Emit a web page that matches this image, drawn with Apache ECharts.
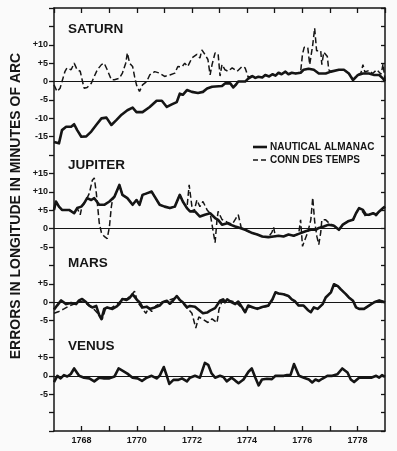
<!DOCTYPE html>
<html>
<head>
<meta charset="utf-8">
<script src="https://cdn.jsdelivr.net/npm/echarts/dist/echarts.min.js"></script>
<style>
  html, body { margin: 0; padding: 0; background: #fafafa; }
  #chart { width: 397px; height: 451px; }
</style>
</head>
<body>
<div id="chart"></div>
<script>
// years on the x axis, error in minutes of arc on y
const yearLabels = [1768, 1770, 1772, 1774, 1776, 1778];

const saturnTicks = [-15, -10, -5, 0, 5, 10];
const jupiterTicks = [-5, 0, 5, 10, 15];
const marsTicks = [-5, 0, 5];
const venusTicks = [-5, 0, 5];

const saturnAlmanac = [[1767.00,-16.4],[1767.18,-16.8],[1767.29,-13.2],[1767.44,-12.3],[1767.62,-12.3],[1767.73,-11.6],[1767.84,-13.2],[1767.99,-15],[1768.17,-14.9],[1768.35,-13.6],[1768.53,-11.8],[1768.72,-10],[1768.90,-9.8],[1769.08,-11.8],[1769.26,-10.5],[1769.45,-9],[1769.66,-7.8],[1769.85,-7.1],[1769.99,-8.3],[1770.21,-8.3],[1770.47,-6.9],[1770.72,-5.2],[1770.91,-5.2],[1771.09,-6.9],[1771.27,-6.2],[1771.45,-5.6],[1771.56,-3.3],[1771.67,-3.6],[1771.82,-2.3],[1772.00,-2.8],[1772.22,-3.1],[1772.40,-2.8],[1772.55,-1.9],[1772.73,-1.4],[1773.09,-1.2],[1773.20,-0.5],[1773.39,-0.5],[1773.50,-1.6],[1773.60,-0.8],[1773.68,0],[1773.93,0],[1774.04,0.8],[1774.19,1.5],[1774.30,1.0],[1774.41,1.3],[1774.55,1.1],[1774.66,1.8],[1774.80,1.4],[1774.92,2],[1775.03,1.6],[1775.14,2.4],[1775.25,2.0],[1775.39,2.7],[1775.50,2],[1775.62,2.4],[1775.76,2.2],[1775.94,2.4],[1776.05,3.2],[1776.23,3.5],[1776.42,3.2],[1776.60,2.2],[1776.85,2.2],[1777.04,2.7],[1777.33,3.2],[1777.51,3.2],[1777.69,2.2],[1777.84,0.4],[1778.02,1.8],[1778.20,2.2],[1778.42,2.2],[1778.61,1.8],[1778.79,1.8],[1778.93,0.8],[1779.00,0]];
const saturnConn = [[1767.00,-0.9],[1767.11,-2.7],[1767.22,-1.8],[1767.29,0],[1767.40,2.8],[1767.47,3.7],[1767.62,3.2],[1767.73,5],[1767.84,3.2],[1767.95,2.8],[1768.02,0.5],[1768.09,-1.8],[1768.20,-1.6],[1768.35,-0.5],[1768.46,1.4],[1768.57,3.2],[1768.72,4.6],[1768.82,5],[1768.93,3.2],[1769.08,0.5],[1769.19,0.5],[1769.37,0.9],[1769.48,2.3],[1769.60,5],[1769.66,7.8],[1769.74,5],[1769.85,4.1],[1769.92,1.4],[1769.99,-0.9],[1770.10,-2.7],[1770.21,-0.9],[1770.36,0],[1770.47,1.8],[1770.65,2.7],[1770.83,2.3],[1771.01,1.4],[1771.20,1.8],[1771.38,2.3],[1771.49,4.1],[1771.64,4],[1771.74,5],[1771.85,4.1],[1772.00,6.4],[1772.18,7.4],[1772.29,6.4],[1772.36,8.6],[1772.47,7.4],[1772.58,6],[1772.66,1.8],[1772.73,4.6],[1772.84,7.8],[1772.95,7.5],[1773.02,1.5],[1773.09,4.6],[1773.20,3.2],[1773.31,2.8],[1773.46,3.7],[1773.64,2.8],[1773.82,4.1],[1773.93,3.7],[1774.04,1.2],[1774.19,1.5],[1774.30,1.0],[1774.41,1.3],[1774.55,1.1],[1774.66,1.8],[1774.80,1.4],[1774.92,2],[1775.03,1.6],[1775.14,2.4],[1775.25,2.0],[1775.39,2.7],[1775.50,2],[1775.62,2.4],[1775.76,2.2],[1775.94,2.6],[1776.01,7.5],[1776.07,9.3],[1776.20,9.3],[1776.27,4.6],[1776.38,10],[1776.45,14.5],[1776.52,8.4],[1776.67,8.4],[1776.71,4.6],[1776.78,8],[1776.91,6.8],[1776.96,3.2],[1777.04,2.7],[1777.33,3.2],[1777.51,3.2],[1777.69,2.2],[1777.84,0.6],[1778.02,1.8],[1778.13,2.4],[1778.20,4.6],[1778.27,2.6],[1778.42,3.0],[1778.55,2.2],[1778.70,3.2],[1778.86,2],[1778.93,4.8],[1779.00,0.5]];

const jupiterAlmanac = [[1767.00,5.1],[1767.07,7.4],[1767.18,6],[1767.29,5.1],[1767.55,5.1],[1767.73,4.2],[1767.84,5.6],[1767.99,6],[1768.09,6.9],[1768.20,8.3],[1768.35,7.8],[1768.46,8.3],[1768.64,6.5],[1768.82,6.5],[1769.01,7.4],[1769.19,8.7],[1769.37,11.9],[1769.48,9.2],[1769.66,8.3],[1769.85,6.5],[1769.99,7.8],[1770.10,6.5],[1770.21,9.2],[1770.36,9.6],[1770.54,10.1],[1770.65,8.7],[1770.83,6.5],[1771.01,6],[1771.20,5.6],[1771.38,6],[1771.56,9.2],[1771.67,7.4],[1771.82,5.6],[1771.93,4.7],[1772.11,4.7],[1772.29,3.3],[1772.47,3.8],[1772.66,4.2],[1772.84,2.9],[1772.95,2.4],[1773.09,1.1],[1773.28,1.5],[1773.39,1.1],[1773.57,0.6],[1773.75,0.2],[1773.93,-0.3],[1774.19,-1.2],[1774.37,-1.6],[1774.55,-2.1],[1774.77,-2.3],[1774.96,-2.1],[1775.14,-1.9],[1775.32,-2.1],[1775.50,-1.6],[1775.69,-1.9],[1775.87,-1.4],[1776.12,-0.7],[1776.31,-0.3],[1776.49,-0.3],[1776.60,0.2],[1776.78,0.6],[1776.96,1.1],[1777.15,0.8],[1777.33,-0.3],[1777.47,1.1],[1777.66,2],[1777.84,2.4],[1777.95,4.2],[1778.06,5.6],[1778.20,5.1],[1778.31,3.8],[1778.42,3.8],[1778.57,4.2],[1778.68,3.8],[1778.79,4.7],[1778.93,5.6],[1779.00,6]];
const jupiterConn = [[1767.00,5.1],[1767.07,7.4],[1767.18,6],[1767.29,5.1],[1767.55,5.1],[1767.73,4.2],[1767.84,5.6],[1767.95,3.8],[1768.02,6.2],[1768.09,6.9],[1768.20,8.3],[1768.28,9.6],[1768.39,13.2],[1768.46,13.8],[1768.53,10],[1768.57,7],[1768.64,1.6],[1768.72,-1.1],[1768.82,-2.1],[1768.93,-2.7],[1769.01,0.6],[1769.08,6],[1769.12,7.8],[1769.19,8.7],[1769.37,11.9],[1769.48,9.2],[1769.66,8.3],[1769.85,6.5],[1769.99,7.8],[1770.10,6.5],[1770.21,9.2],[1770.36,9.6],[1770.54,10.1],[1770.65,8.7],[1770.83,6.5],[1771.01,6],[1771.20,5.6],[1771.38,6],[1771.56,9.2],[1771.67,7.4],[1771.82,5.6],[1771.90,11.9],[1772.00,6],[1772.07,4.5],[1772.18,7.8],[1772.29,6],[1772.40,7.4],[1772.55,5.1],[1772.66,4.2],[1772.77,-0.7],[1772.84,-3.8],[1772.91,2.4],[1772.95,4.7],[1773.09,2.5],[1773.28,1.8],[1773.46,1.2],[1773.60,2.9],[1773.68,3.8],[1773.79,0.2],[1773.93,-0.3],[1774.19,-1.2],[1774.37,-1.6],[1774.55,-2.1],[1774.77,-2.3],[1774.90,-1.0],[1774.96,0.4],[1775.03,-2.1],[1775.14,-1.9],[1775.32,-2.1],[1775.50,-1.6],[1775.69,-1.9],[1775.87,-1.4],[1775.94,2.4],[1776.01,-4.8],[1776.07,-3.5],[1776.20,-1],[1776.31,2.4],[1776.38,8.4],[1776.45,2],[1776.53,-2.1],[1776.60,-4.3],[1776.67,-1],[1776.71,2.4],[1776.85,2.4],[1776.96,1.6],[1777.15,0.8],[1777.33,-0.3],[1777.47,1.1],[1777.66,2],[1777.84,2.4],[1777.95,4.2],[1778.06,5.6],[1778.20,4.5],[1778.31,3.2],[1778.42,3.8],[1778.57,4.2],[1778.68,3.5],[1778.79,4.7],[1778.93,5.6],[1779.00,6]];

const marsAlmanac = [[1767.00,-2],[1767.11,-0.9],[1767.26,0.5],[1767.44,-0.5],[1767.62,-0.2],[1767.80,-0.5],[1767.91,0.5],[1768.02,0.9],[1768.17,0],[1768.28,-0.9],[1768.39,-1.4],[1768.53,-1.0],[1768.64,-3.5],[1768.72,-4.6],[1768.82,-1.8],[1768.93,-1.4],[1769.12,-1.8],[1769.26,-1.2],[1769.37,-0.5],[1769.48,0.9],[1769.63,0.6],[1769.74,1.2],[1769.85,2.2],[1769.99,0.8],[1770.10,0],[1770.21,-1.4],[1770.36,-1.2],[1770.47,-1.8],[1770.65,-1.4],[1770.83,-0.9],[1770.94,0],[1771.09,0.4],[1771.20,-0.4],[1771.31,0.4],[1771.45,1.7],[1771.56,0.6],[1771.67,0],[1771.82,-1.4],[1771.93,-1],[1772.11,-1.2],[1772.22,-1.9],[1772.40,-3],[1772.55,-2.8],[1772.66,-2.3],[1772.84,-1.6],[1773.02,0.4],[1773.13,0.8],[1773.20,0],[1773.28,0.8],[1773.39,0.2],[1773.46,0.7],[1773.57,-0.5],[1773.68,0.2],[1773.82,-1.4],[1773.93,-2.7],[1774.04,-0.9],[1774.22,-1.4],[1774.37,-1.8],[1774.55,-1.3],[1774.77,-0.9],[1774.92,0.8],[1775.03,2.7],[1775.14,2.4],[1775.32,2.2],[1775.50,1.7],[1775.62,0.8],[1775.73,0.3],[1775.87,-0.9],[1776.05,-0.9],[1776.20,-2.1],[1776.31,-2.7],[1776.42,-1.4],[1776.56,-1.8],[1776.74,-0.5],[1776.85,1.3],[1777.04,2.7],[1777.15,4.9],[1777.29,4.4],[1777.40,3.5],[1777.58,2.2],[1777.69,1.3],[1777.84,0.4],[1777.95,-1.4],[1778.06,-1.8],[1778.24,-1.8],[1778.42,-0.9],[1778.61,0],[1778.79,0.5],[1779.00,0]];
const marsConn = [[1767.00,-3],[1767.18,-2.5],[1767.36,-1.8],[1767.55,-1],[1767.73,-0.5],[1767.91,0.3],[1768.09,0],[1768.28,-1],[1768.46,-2],[1768.64,-3.5],[1768.75,-4.6],[1768.86,-2],[1769.08,-1.5],[1769.30,-0.5],[1769.48,0.8],[1769.66,1],[1769.81,2],[1769.92,3],[1770.03,0],[1770.18,-1.5],[1770.33,-3],[1770.44,-1.5],[1770.54,-2.5],[1770.69,-1],[1770.91,0],[1771.13,0.5],[1771.34,1],[1771.49,1.5],[1771.64,0],[1771.82,-1.5],[1772.00,-3],[1772.14,-7],[1772.25,-4],[1772.43,-4.8],[1772.58,-5.5],[1772.73,-4.5],[1772.91,-5.6],[1772.98,-2],[1773.09,0.3],[1773.28,0.5],[1773.46,0.3],[1773.64,-0.3],[1773.82,-1.6],[1773.93,-2.8],[1774.04,-1.2],[1774.30,-1.6],[1774.55,-1.4],[1774.77,-1.1],[1774.92,0.6],[1775.03,2.5],[1775.14,2.4],[1775.32,2.2],[1775.50,1.7],[1775.62,0.8],[1775.73,0.3],[1775.87,-0.9],[1776.05,-0.9],[1776.20,-2.1],[1776.31,-2.7],[1776.42,-1.4],[1776.56,-1.8],[1776.74,-0.5],[1776.85,1.3],[1777.04,2.7],[1777.15,4.9],[1777.29,4.4],[1777.40,3.5],[1777.58,2.2],[1777.69,1.3],[1777.84,0.4],[1777.95,-1.4],[1778.06,-1.8],[1778.24,-1.8],[1778.42,-0.9],[1778.61,0],[1778.79,0.5],[1779.00,0]];

const venusAlmanac = [[1767.00,-1.7],[1767.12,0],[1767.24,-0.7],[1767.36,0.2],[1767.48,-0.2],[1767.61,0.5],[1767.73,2],[1767.91,0],[1768.09,-0.5],[1768.28,-0.7],[1768.46,-1.5],[1768.64,-0.5],[1768.82,-0.7],[1769.01,-0.7],[1769.19,-0.2],[1769.34,2],[1769.48,1.4],[1769.66,0.6],[1769.85,-0.5],[1770.03,-0.7],[1770.19,-1.4],[1770.36,-0.5],[1770.54,0],[1770.72,-0.7],[1770.83,0],[1770.98,2.4],[1771.09,0],[1771.18,-2.2],[1771.33,-1.1],[1771.51,-1.1],[1771.64,-0.7],[1771.82,-1.5],[1771.93,-0.5],[1772.11,0],[1772.29,-0.5],[1772.47,3.5],[1772.59,3],[1772.71,0.7],[1772.84,-0.5],[1773.02,0],[1773.14,-0.3],[1773.26,-1.5],[1773.44,-0.5],[1773.57,-1.3],[1773.69,-2],[1773.87,-1],[1774.05,1.1],[1774.17,2],[1774.30,-0.5],[1774.42,-2.6],[1774.54,-1],[1774.72,-0.8],[1774.90,-0.9],[1775.03,0],[1775.33,0],[1775.45,0.2],[1775.58,0.3],[1775.70,3.2],[1775.76,3.2],[1775.88,0],[1776.06,-0.5],[1776.24,-1],[1776.36,-1.8],[1776.48,-1],[1776.60,-1.4],[1776.72,-0.8],[1776.91,0],[1777.09,0],[1777.27,0.4],[1777.45,2],[1777.64,0.9],[1777.76,-1],[1777.88,-1.7],[1778.06,-0.5],[1778.24,-0.5],[1778.50,-0.5],[1778.68,0],[1778.79,-0.5],[1778.89,0.2],[1779.00,-0.3]];

// layout: where each panel's zero sits on the shared axis, and where its name goes
const panels = [
  { name: 'SATURN', offset: 80, ticks: saturnTicks, almanac: saturnAlmanac, conn: saturnConn, titleY: 29 },
  { name: 'JUPITER', offset: 40, ticks: jupiterTicks, almanac: jupiterAlmanac, conn: jupiterConn, titleY: 165 },
  { name: 'MARS', offset: 20, ticks: marsTicks, almanac: marsAlmanac, conn: marsConn, titleY: 263 },
  { name: 'VENUS', offset: 0, ticks: venusTicks, almanac: venusAlmanac, conn: null, titleY: 346 }
];

const INK = '#151515';
const FONT = '"Liberation Sans", Arial, sans-serif';

function shift(data, off) {
  return data.map(function (p) { return [p[0], p[1] + off]; });
}

let tickText = {};
panels.forEach(function (p) {
  p.ticks.forEach(function (t) {
    tickText[p.offset + t] = t > 0 ? '+' + t : String(t);
  });
});

let series = [];
panels.forEach(function (p) {
  series.push({
    name: 'NAUTICAL ALMANAC',
    type: 'line',
    data: shift(p.almanac, p.offset),
    showSymbol: false,
    symbol: 'none',
    z: 3,
    lineStyle: { color: INK, width: 2.6, join: 'round' },
    itemStyle: { color: INK },
    markLine: {
      silent: true,
      symbol: ['none', 'none'],
      label: { show: false },
      lineStyle: { color: INK, width: 1, type: 'solid' },
      data: [{ yAxis: p.offset }]
    }
  });
  if (p.conn) {
    series.push({
      name: 'CONN DES TEMPS',
      type: 'line',
      data: shift(p.conn, p.offset),
      showSymbol: false,
      symbol: 'none',
      z: 2,
      lineStyle: { color: INK, width: 1.5, type: [6, 3] },
      itemStyle: { color: INK }
    });
  }
});

let graphics = panels.map(function (p) {
  return {
    type: 'text',
    x: 68,
    y: p.titleY,
    style: {
      text: p.name,
      fill: INK,
      font: 'bold 13.5px ' + FONT,
      textVerticalAlign: 'middle'
    }
  };
});
graphics.push({
  type: 'text',
  x: 16,
  y: 206,
  rotation: Math.PI / 2,
  style: {
    text: 'ERRORS IN LONGITUDE IN MINUTES OF ARC',
    fill: INK,
    font: 'bold 14px ' + FONT,
    textAlign: 'center',
    textVerticalAlign: 'middle'
  }
});
// key for the two line styles
graphics.push(
  { type: 'line', shape: { x1: 253, y1: 147, x2: 267, y2: 147 }, style: { stroke: INK, lineWidth: 2.6 } },
  { type: 'text', x: 270, y: 147, style: { text: 'NAUTICAL ALMANAC', fill: INK, font: 'bold 10px ' + FONT, textVerticalAlign: 'middle' } },
  { type: 'line', shape: { x1: 253, y1: 160, x2: 268, y2: 160 }, style: { stroke: INK, lineWidth: 1.6, lineDash: [5, 3] } },
  { type: 'text', x: 270, y: 160, style: { text: 'CONN DES TEMPS', fill: INK, font: 'bold 10px ' + FONT, textVerticalAlign: 'middle' } }
);

const axisLineStyle = { onZero: false, lineStyle: { color: INK, width: 1.5 } };

let chart = echarts.init(document.getElementById('chart'));
chart.setOption({
  backgroundColor: '#fafafa',
  animation: false,
  grid: { left: 54, right: 12, top: 8, bottom: 20 },
  xAxis: [
    {
      type: 'value',
      position: 'bottom',
      min: 1767,
      max: 1779,
      interval: 1,
      axisLine: axisLineStyle,
      axisTick: { inside: true, length: 5, lineStyle: { color: INK, width: 1.3 } },
      splitLine: { show: false },
      axisLabel: {
        color: INK,
        fontSize: 9,
        fontWeight: 'bold',
        fontFamily: FONT,
        margin: 5,
        showMinLabel: false,
        showMaxLabel: false,
        formatter: function (v) { return yearLabels.indexOf(v) >= 0 ? String(v) : ''; }
      }
    },
    {
      type: 'value',
      position: 'top',
      min: 1767,
      max: 1779,
      interval: 1,
      axisLine: axisLineStyle,
      axisTick: { inside: true, length: 5, lineStyle: { color: INK, width: 1.3 } },
      splitLine: { show: false },
      axisLabel: { show: false }
    }
  ],
  yAxis: [
    {
      type: 'value',
      position: 'left',
      min: -15,
      max: 100,
      interval: 5,
      axisLine: axisLineStyle,
      axisTick: { inside: false, length: 5, lineStyle: { color: INK, width: 1.3 } },
      splitLine: { show: false },
      axisLabel: {
        color: INK,
        fontSize: 9,
        fontWeight: 'bold',
        fontFamily: FONT,
        margin: 6,
        formatter: function (v) { return tickText[v] !== undefined ? tickText[v] : ''; }
      }
    },
    {
      type: 'value',
      position: 'right',
      min: -15,
      max: 100,
      interval: 5,
      axisLine: axisLineStyle,
      axisTick: { inside: true, length: 4, lineStyle: { color: INK, width: 1.3 } },
      splitLine: { show: false },
      axisLabel: { show: false }
    }
  ],
  graphic: graphics,
  series: series
});
</script>
</body>
</html>
